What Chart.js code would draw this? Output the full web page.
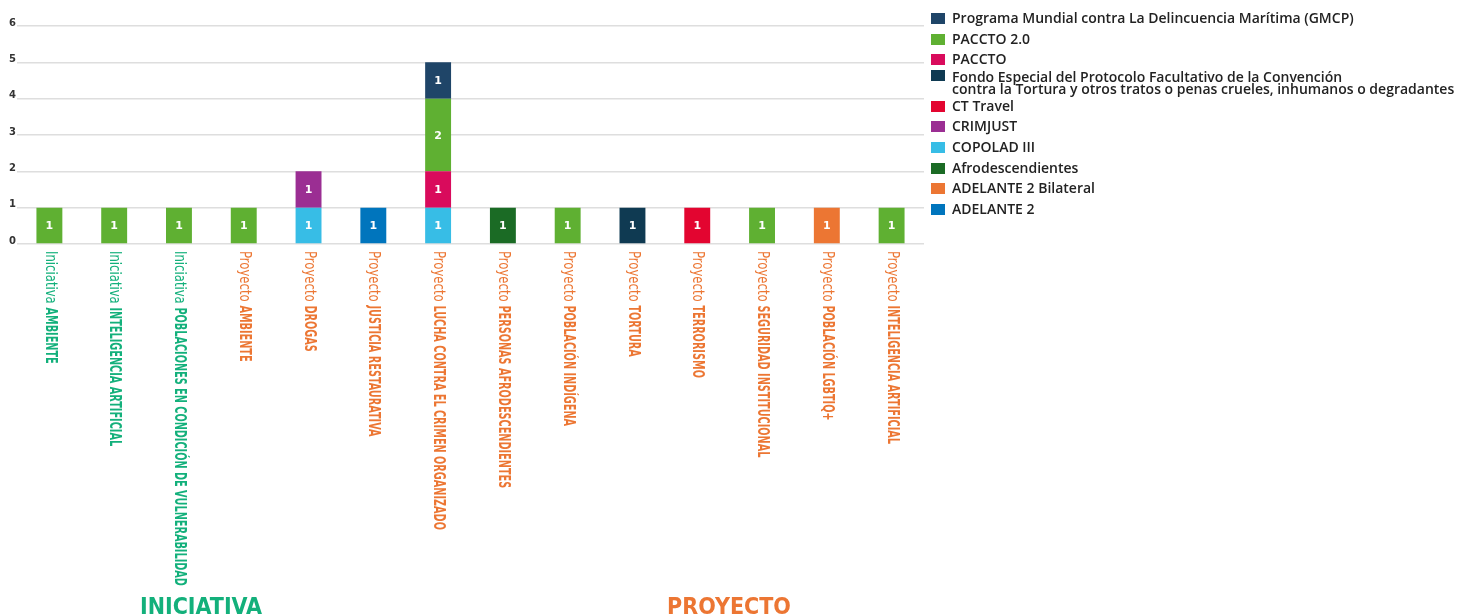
<!DOCTYPE html>
<html><head><meta charset="utf-8">
<script src="https://cdn.jsdelivr.net/npm/chart.js@4/dist/chart.umd.min.js"></script>
<style>
html,body{margin:0;padding:0;background:#fff;}
#wrap{position:relative;width:1461px;height:616px;overflow:hidden;}
#c{position:absolute;left:0;top:0;}
#legend{position:absolute;left:931px;top:8px;font-family:'Open Sans',Lato,sans-serif;font-size:14px;font-weight:600;color:#222;}
.item{position:relative;height:20.7px;line-height:20.7px;padding-left:21px;white-space:nowrap;}
.item.multi{height:25.5px;line-height:12px;padding-top:1px;box-sizing:border-box;}
.box{position:absolute;left:0;top:5px;width:14px;height:11px;}
.item.multi .box{top:0px;}
</style></head>
<body><div id="wrap"><canvas id="c" width="1461" height="616"></canvas><div id="legend"></div></div>
<script>
const categories = [
  "Iniciativa AMBIENTE",
  "Iniciativa INTELIGENCIA ARTIFICIAL",
  "Iniciativa POBLACIONES EN CONDICIÓN DE VULNERABILIDAD",
  "Proyecto AMBIENTE",
  "Proyecto DROGAS",
  "Proyecto JUSTICIA RESTAURATIVA",
  "Proyecto LUCHA CONTRA EL CRIMEN ORGANIZADO",
  "Proyecto PERSONAS AFRODESCENDIENTES",
  "Proyecto POBLACIÓN INDÍGENA",
  "Proyecto TORTURA",
  "Proyecto TERRORISMO",
  "Proyecto SEGURIDAD INSTITUCIONAL",
  "Proyecto POBLACIÓN LGBTIQ+",
  "Proyecto INTELIGENCIA ARTIFICIAL"
];
const groupLabels = ["INICIATIVA", "PROYECTO"];

// series, bottom of stack first
const seriesNames = [
  "ADELANTE 2",
  "ADELANTE 2 Bilateral",
  "Afrodescendientes",
  "COPOLAD III",
  "CRIMJUST",
  "CT Travel",
  "Fondo Especial del Protocolo Facultativo de la Convención\ncontra la Tortura y otros tratos o penas crueles, inhumanos o degradantes",
  "PACCTO",
  "PACCTO 2.0",
  "Programa Mundial contra La Delincuencia Marítima (GMCP)"
];
const seriesColors = ["#0075bd","#ec7633","#1b6b25","#37bde6","#9b2e93","#e30530","#0f3a52","#d90b5c","#5fb032","#1f4568"];

const adelante2          = [null,null,null,null,null,1,null,null,null,null,null,null,null,null];
const adelante2Bilateral = [null,null,null,null,null,null,null,null,null,null,null,null,1,null];
const afrodescendientes  = [null,null,null,null,null,null,null,1,null,null,null,null,null,null];
const copolad3           = [null,null,null,null,1,null,1,null,null,null,null,null,null,null];
const crimjust           = [null,null,null,null,1,null,null,null,null,null,null,null,null,null];
const ctTravel           = [null,null,null,null,null,null,null,null,null,null,1,null,null,null];
const fondoEspecial      = [null,null,null,null,null,null,null,null,null,1,null,null,null,null];
const paccto             = [null,null,null,null,null,null,1,null,null,null,null,null,null,null];
const paccto2            = [1,1,1,1,null,null,2,null,1,null,null,1,null,1];
const gmcp               = [null,null,null,null,null,null,1,null,null,null,null,null,null,null];

const seriesValues = [adelante2, adelante2Bilateral, afrodescendientes, copolad3, crimjust, ctTravel, fondoEspecial, paccto, paccto2, gmcp];

const COL_INI = "#13b07b", COL_PRO = "#ec7633";
const narrow = "'DejaVu Sans Condensed','DejaVu Sans',sans-serif";

const datasets = seriesNames.map((n, i) => ({
  label: n, data: seriesValues[i], backgroundColor: seriesColors[i],
  borderWidth: 0, barPercentage: 0.4, categoryPercentage: 1.0
}));

const valueLabels = {
  id: 'valueLabels',
  afterDatasetsDraw(chart) {
    const ctx = chart.ctx;
    ctx.save();
    ctx.fillStyle = '#fff';
    ctx.font = "bold 11px 'DejaVu Sans',sans-serif";
    ctx.textAlign = 'center'; ctx.textBaseline = 'middle';
    chart.data.datasets.forEach((ds, i) => {
      const meta = chart.getDatasetMeta(i);
      meta.data.forEach((bar, j) => {
        const v = ds.data[j];
        if (!v) return;
        const p = bar.getProps(['x','y','base'], true);
        ctx.fillText(String(v), p.x, (p.y + p.base) / 2 + 1);
      });
    });
    ctx.restore();
  }
};

const xLabels = {
  id: 'xLabels',
  afterDraw(chart) {
    const ctx = chart.ctx, xs = chart.scales.x, top = chart.chartArea.bottom + 7;
    ctx.save();
    chart.data.labels.forEach((lab, i) => {
      const k = lab.indexOf(' ');
      const pre = lab.slice(0, k), rest = lab.slice(k + 1);
      const col = pre === 'Iniciativa' ? COL_INI : COL_PRO;
      const x = xs.getPixelForTick(i);
      ctx.save();
      ctx.translate(x, top);
      ctx.rotate(Math.PI / 2);
      ctx.fillStyle = col;
      ctx.textAlign = 'left'; ctx.textBaseline = 'middle';
      ctx.font = "15px " + narrow;
      const sp = 0.865;
      const w = ctx.measureText(pre + ' ').width * sp;
      ctx.save(); ctx.scale(sp, 1); ctx.fillText(pre, 0, 0); ctx.restore();
      ctx.font = "bold 15px " + narrow;
      ctx.translate(w, 0);
      ctx.scale(0.72, 1);
      ctx.fillText(rest, 0, 0);
      ctx.restore();
    });
    // group labels
    ctx.font = "bold 23px " + narrow;
    ctx.textAlign = 'center'; ctx.textBaseline = 'alphabetic';
    ctx.fillStyle = COL_INI; ctx.fillText(groupLabels[0], 201, 614);
    ctx.fillStyle = COL_PRO; ctx.fillText(groupLabels[1], 729, 614);
    ctx.restore();
  }
};

new Chart(document.getElementById('c'), {
  type: 'bar',
  data: { labels: categories, datasets },
  options: {
    responsive: false, animation: false,
    layout: { padding: { top: 26, right: 537, bottom: 364, left: 0 } },
    plugins: { legend: { display: false }, tooltip: { enabled: false } },
    scales: {
      x: { stacked: true, grid: { display: false }, border: { display: false }, ticks: { display: false } },
      y: {
        stacked: true, min: 0, max: 6,
        afterFit(s) { s.width = 17; },
        border: { display: false },
        grid: { color: '#dedede', lineWidth: 1.5, drawTicks: false },
        ticks: { stepSize: 1, padding: 1, labelOffset: -3, color: '#333', font: { family: "'DejaVu Sans',sans-serif", size: 10, weight: 'bold' } }
      }
    }
  },
  plugins: [valueLabels, xLabels]
});

// HTML legend (reverse of stacking order)
const lg = document.getElementById('legend');
for (let i = seriesNames.length - 1; i >= 0; i--) {
  const d = document.createElement('div');
  const multi = seriesNames[i].includes('\n');
  d.className = 'item' + (multi ? ' multi' : '');
  const b = document.createElement('span'); b.className = 'box'; b.style.background = seriesColors[i];
  d.appendChild(b);
  seriesNames[i].split('\n').forEach((t, k) => {
    if (k) d.appendChild(document.createElement('br'));
    d.appendChild(document.createTextNode(t));
  });
  lg.appendChild(d);
}
</script>
</body></html>
